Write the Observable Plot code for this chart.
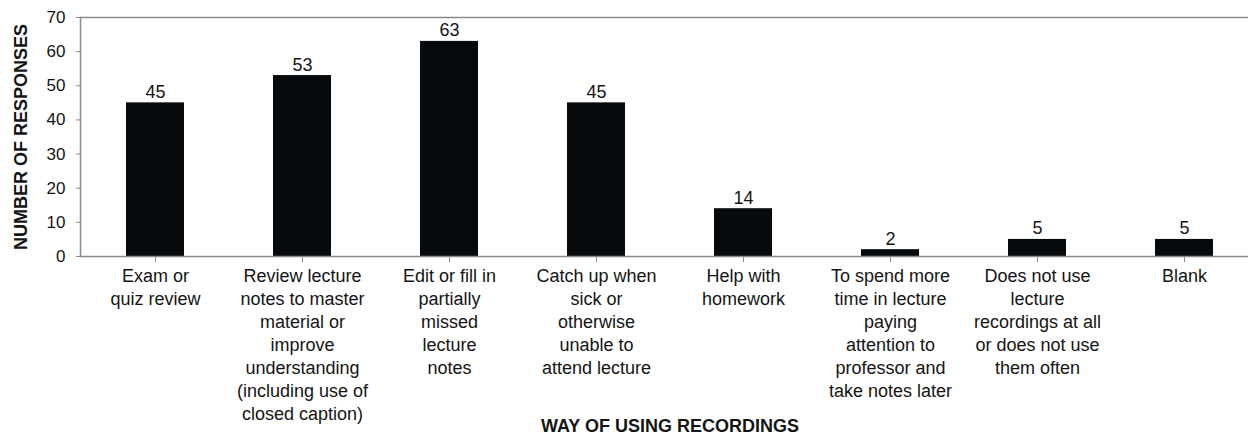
<!DOCTYPE html>
<html>
<head>
<meta charset="utf-8">
<script src="https://cdn.jsdelivr.net/npm/d3@7"></script>
<script src="https://cdn.jsdelivr.net/npm/@observablehq/plot@0.6"></script>
<style>
  html, body { margin: 0; padding: 0; background: #fff; overflow: hidden; }
  #chart svg { display: block; }
</style>
</head>
<body>
<div id="chart"></div>
<script>
// Ways students use lecture recordings, with the number of responses for each
const categories = [
  "Exam or quiz review",
  "Review lecture notes to master material or improve understanding (including use of closed caption)",
  "Edit or fill in partially missed lecture notes",
  "Catch up when sick or otherwise unable to attend lecture",
  "Help with homework",
  "To spend more time in lecture paying attention to professor and take notes later",
  "Does not use lecture recordings at all or does not use them often",
  "Blank"
];
const tickLabels = [
  "Exam or\nquiz review",
  "Review lecture\nnotes to master\nmaterial or\nimprove\nunderstanding\n(including use of\nclosed caption)",
  "Edit or fill in\npartially\nmissed\nlecture\nnotes",
  "Catch up when\nsick or\notherwise\nunable to\nattend lecture",
  "Help with\nhomework",
  "To spend more\ntime in lecture\npaying\nattention to\nprofessor and\ntake notes later",
  "Does not use\nlecture\nrecordings at all\nor does not use\nthem often",
  "Blank"
];
const responses = [45, 53, 63, 45, 14, 2, 5, 5];
const yTicks = [0, 10, 20, 30, 40, 50, 60, 70];
const xTitle = "WAY OF USING RECORDINGS";
const yTitle = "NUMBER OF RESPONSES";

const rows = categories.map((category, i) => ({category, value: responses[i]}));
const tickLabelOf = new Map(categories.map((c, i) => [c, tickLabels[i]]));

const axisGray = "#8a8a8a";
const ink = "#141414";

const chart = Plot.plot({
  width: 1248,
  height: 435,
  marginLeft: 80,
  marginRight: -11,
  marginTop: 17,
  marginBottom: 179,
  style: {fontFamily: "'Liberation Sans', Arial, sans-serif", background: "#fff", color: ink},
  x: {domain: categories, range: [80, 1259], paddingInner: 0.606, paddingOuter: 0.303},
  y: {domain: [0, 70], ticks: yTicks},
  marks: [
    // top border and baseline of the plot area
    Plot.ruleY([70], {stroke: axisGray, strokeWidth: 1.5}),
    Plot.frame({anchor: "left", stroke: axisGray, strokeWidth: 1.5}),
    Plot.barY(rows, {x: "category", y: "value", fill: "#070a0c"}),
    Plot.ruleY([0], {stroke: axisGray, strokeWidth: 1.5}),
    // value labels above each bar
    Plot.text(rows, {x: "category", y: "value", text: d => String(d.value), dy: -5, lineAnchor: "bottom", fontSize: 18, fill: ink}),
    Plot.axisY({ticks: yTicks, tickSize: 4, tickPadding: 11, fontSize: 17, stroke: axisGray, fill: ink, label: null}),
    Plot.axisX({tickFormat: d => tickLabelOf.get(d), tickSize: 6, tickPadding: 3, fontSize: 18, lineHeight: 1.278, stroke: axisGray, fill: ink, label: null}),
    // axis titles
    Plot.text([xTitle], {frameAnchor: "bottom", dy: 170, lineAnchor: "middle", fontSize: 18, fontWeight: "bold", fill: ink}),
    Plot.text([yTitle], {frameAnchor: "left", textAnchor: "middle", dx: -59, rotate: -90, lineAnchor: "middle", fontSize: 18, fontWeight: "bold", fill: ink})
  ]
});

document.getElementById("chart").append(chart);
</script>
</body>
</html>
